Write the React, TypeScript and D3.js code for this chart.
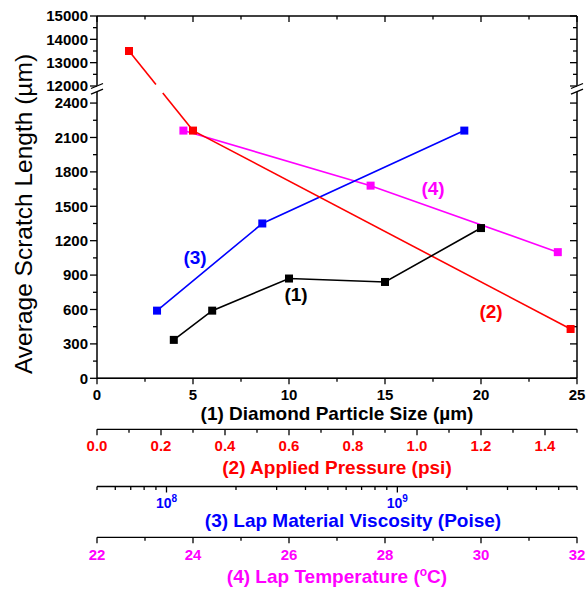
import React from "react";
import * as d3 from "d3";

// ---- data ----
const diamondSize = [4, 6, 10, 15, 20];
const diamondScratch = [335, 590, 870, 840, 1310];
const pressure = [0.1, 0.3, 1.48];
const pressureScratch = [13500, 2160, 430];
const viscosity = [9.1e7, 2.6e8, 1.95e9];
const viscosityScratch = [590, 1350, 2160];
const temperature = [23.8, 27.7, 31.6];
const temperatureScratch = [2160, 1680, 1100];

const yLowerTicks = [0, 300, 600, 900, 1200, 1500, 1800, 2100, 2400];
const yUpperTicks = [12000, 13000, 14000, 15000];
const diamondTicks = [0, 5, 10, 15, 20, 25];
const pressureTicks = [0.0, 0.2, 0.4, 0.6, 0.8, 1.0, 1.2, 1.4];
const viscosityTicks = [1e8, 1e9];
const temperatureTicks = [22, 24, 26, 28, 30, 32];

const FONT = "'Liberation Sans', Arial, Helvetica, sans-serif";
const RED = "#FF0000";
const BLUE = "#0000FF";
const MAG = "#FF00FF";

const X0 = 97;
const X1 = 577;
const YTOP = 16;
const YBOT = 378.3;
const BREAK_UP = 86;
const BREAK_LO = 91.6;

const xDiamond = d3.scaleLinear().domain([0, 25]).range([X0, X1]);
const xPressure = d3.scaleLinear().domain([0, 1.5]).range([X0, X1]);
const xVisc = d3.scaleLog().domain([5e7, 6e9]).range([X0, X1]);
const xTemp = d3.scaleLinear().domain([22, 32]).range([X0, X1]);
const yLower = d3.scaleLinear().domain([0, 2500]).range([YBOT, BREAK_LO]);
const yUpper = d3.scaleLinear().domain([12000, 15000]).range([BREAK_UP, YTOP]);
const yScale = (v: number) => (v > 2500 ? yUpper(v) : yLower(v));

function Series({ xs, ys, xScale, color }: any) {
  const pts: [number, number][] = xs.map((x: number, i: number) => [xScale(x), yScale(ys[i])]);
  const line = d3.line();
  return (
    <g>
      <path d={line(pts) || ""} fill="none" stroke={color} strokeWidth={1.6} />
      {pts.map((p, i) => (
        <rect key={i} x={p[0] - 4} y={p[1] - 4} width={8} height={8} fill={color} />
      ))}
    </g>
  );
}

function BottomAxis({ y, scale, majors, minors, labels, color, title, titleX, titleY, titleNode }: any) {
  return (
    <g>
      <line x1={X0} x2={X1} y1={y} y2={y} stroke="#000" strokeWidth={1.3} />
      {majors.map((t: number, i: number) => (
        <line key={"M" + i} x1={scale(t)} x2={scale(t)} y1={y} y2={y + 6} stroke="#000" strokeWidth={1.3} />
      ))}
      {minors.map((t: number, i: number) => (
        <line key={"m" + i} x1={scale(t)} x2={scale(t)} y1={y} y2={y + 3.5} stroke="#000" strokeWidth={1.3} />
      ))}
      {labels}
      <text x={titleX ?? (X0 + X1) / 2} y={titleY} textAnchor="middle" fontSize={19} fontWeight="bold" fill={color} fontFamily={FONT}>
        {titleNode || title}
      </text>
    </g>
  );
}

export default function App() {
  const W = 586;
  const H = 591;

  // red segment across the break
  const rp1: [number, number] = [xPressure(pressure[0]), yScale(pressureScratch[0])];
  const rp2: [number, number] = [xPressure(pressure[1]), yScale(pressureScratch[1])];
  const gapTop = 84.5;
  const gapBot = 93;
  const tAt = (yy: number) => (yy - rp1[1]) / (rp2[1] - rp1[1]);
  const interp = (t: number): [number, number] => [rp1[0] + (rp2[0] - rp1[0]) * t, rp1[1] + (rp2[1] - rp1[1]) * t];
  const ga = interp(tAt(gapTop));
  const gb = interp(tAt(gapBot));

  const lowerMinor = d3.range(150, 2500, 300);
  const upperMinor = d3.range(12500, 15000, 1000);
  const xMinor = d3.range(2.5, 25, 5);

  const tickW = 1.3;

  const yTickLines = (ax: number, dir: number) => (
    <g>
      {yLowerTicks.map((t) => (
        <line key={"l" + t} x1={ax} x2={ax + dir * 7} y1={yLower(t)} y2={yLower(t)} stroke="#000" strokeWidth={tickW} />
      ))}
      {lowerMinor.map((t) => (
        <line key={"lm" + t} x1={ax} x2={ax + dir * 4} y1={yLower(t)} y2={yLower(t)} stroke="#000" strokeWidth={tickW} />
      ))}
      {yUpperTicks.map((t) => (
        <line key={"u" + t} x1={ax} x2={ax + dir * 7} y1={yUpper(t)} y2={yUpper(t)} stroke="#000" strokeWidth={tickW} />
      ))}
      {upperMinor.map((t) => (
        <line key={"um" + t} x1={ax} x2={ax + dir * 4} y1={yUpper(t)} y2={yUpper(t)} stroke="#000" strokeWidth={tickW} />
      ))}
      <line x1={ax} x2={ax} y1={YTOP} y2={BREAK_UP - 0.5} stroke="#000" strokeWidth={1.5} />
      <line x1={ax} x2={ax} y1={BREAK_LO + 0.5} y2={YBOT} stroke="#000" strokeWidth={1.5} />
      <line x1={ax - 6} x2={ax + 6} y1={BREAK_UP + 2.5} y2={BREAK_UP - 2.5} stroke="#000" strokeWidth={1.3} />
      <line x1={ax - 6} x2={ax + 6} y1={BREAK_LO + 2.5} y2={BREAK_LO - 2.5} stroke="#000" strokeWidth={1.3} />
    </g>
  );

  const visMinor: number[] = [];
  [5e7, 6e7, 7e7, 8e7, 9e7].forEach((v) => visMinor.push(v));
  for (let k = 2; k <= 9; k++) visMinor.push(k * 1e8);
  for (let k = 2; k <= 6; k++) visMinor.push(k * 1e9);

  return (
    <svg width={W} height={H} style={{ position: "absolute", left: 0, top: 0, background: "#fff" }} fontFamily={FONT}>
      <rect x={0} y={0} width={W} height={H} fill="#fff" />

      {/* frame */}
      <line x1={X0} x2={X1} y1={YTOP} y2={YTOP} stroke="#000" strokeWidth={1.5} />
      <line x1={X0} x2={X1} y1={YBOT} y2={YBOT} stroke="#000" strokeWidth={1.5} />
      {yTickLines(X0, -1)}
      {yTickLines(X1, -1)}
      {/* top ticks inward */}
      {diamondTicks.map((t) => (
        <line key={"tt" + t} x1={xDiamond(t)} x2={xDiamond(t)} y1={YTOP} y2={YTOP + 6} stroke="#000" strokeWidth={tickW} />
      ))}
      {xMinor.map((t) => (
        <line key={"ttm" + t} x1={xDiamond(t)} x2={xDiamond(t)} y1={YTOP} y2={YTOP + 3.5} stroke="#000" strokeWidth={tickW} />
      ))}

      {/* y tick labels */}
      {yLowerTicks.map((t) => (
        <text key={"yl" + t} x={88} y={yLower(t)} dy="0.35em" textAnchor="end" fontSize={15} fontWeight="bold">
          {t}
        </text>
      ))}
      {yUpperTicks.map((t) => (
        <text key={"yu" + t} x={88} y={yUpper(t)} dy="0.35em" textAnchor="end" fontSize={15} fontWeight="bold">
          {t}
        </text>
      ))}
      <text transform="translate(32,214) rotate(-90)" textAnchor="middle" fontSize={24.5}>
        Average Scratch Length (µm)
      </text>

      {/* axis 1 */}
      <BottomAxis
        y={YBOT}
        scale={xDiamond}
        majors={diamondTicks}
        minors={xMinor}
        color="#000"
        titleY={420}
        title="(1) Diamond Particle Size (µm)"
        labels={diamondTicks.map((t) => (
          <text key={t} x={xDiamond(t)} y={400} textAnchor="middle" fontSize={15} fontWeight="bold">
            {t}
          </text>
        ))}
      />
      {/* axis 2 */}
      <BottomAxis
        y={429.3}
        scale={xPressure}
        majors={pressureTicks}
        minors={d3.range(0.1, 1.55, 0.2)}
        color={RED}
        titleY={474}
        title="(2) Applied Pressure (psi)"
        labels={pressureTicks.map((t) => (
          <text key={t} x={xPressure(t)} y={451} textAnchor="middle" fontSize={15} fontWeight="bold" fill={RED}>
            {t.toFixed(1)}
          </text>
        ))}
      />
      {/* axis 3 */}
      <BottomAxis
        y={486.5}
        scale={xVisc}
        majors={viscosityTicks}
        minors={visMinor}
        color={BLUE}
        titleX={353}
        titleY={527}
        title="(3) Lap Material Viscosity (Poise)"
        labels={viscosityTicks.map((t) => (
          <text key={t} x={xVisc(t)} y={508} textAnchor="middle" fontSize={14} fontWeight="bold" fill={BLUE}>
            <tspan>10</tspan>
            <tspan dy={-6} fontSize={10}>
              {Math.round(Math.log10(t))}
            </tspan>
          </text>
        ))}
      />
      {/* axis 4 */}
      <BottomAxis
        y={537.3}
        scale={xTemp}
        majors={temperatureTicks}
        minors={d3.range(23, 32, 2)}
        color={MAG}
        titleY={583}
        titleNode={
          <>
            <tspan>(4) Lap Temperature (</tspan>
            <tspan dy={-7} fontSize={12}>
              o
            </tspan>
            <tspan dy={7}>C)</tspan>
          </>
        }
        labels={temperatureTicks.map((t) => (
          <text key={t} x={xTemp(t)} y={560} textAnchor="middle" fontSize={15} fontWeight="bold" fill={MAG}>
            {t}
          </text>
        ))}
      />

      {/* series */}
      <Series xs={temperature} ys={temperatureScratch} xScale={xTemp} color={MAG} />
      <Series xs={viscosity} ys={viscosityScratch} xScale={xVisc} color={BLUE} />
      <line x1={rp1[0]} y1={rp1[1]} x2={ga[0]} y2={ga[1]} stroke={RED} strokeWidth={1.6} />
      <line x1={gb[0]} y1={gb[1]} x2={rp2[0]} y2={rp2[1]} stroke={RED} strokeWidth={1.6} />
      <rect x={rp1[0] - 4} y={rp1[1] - 4} width={8} height={8} fill={RED} />
      <Series xs={pressure.slice(1)} ys={pressureScratch.slice(1)} xScale={xPressure} color={RED} />
      <Series xs={diamondSize} ys={diamondScratch} xScale={xDiamond} color="#000" />

      {/* series labels */}
      <text x={296} y={294} dy="0.35em" textAnchor="middle" fontSize={19} fontWeight="bold" fill="#000">(1)</text>
      <text x={491} y={311} dy="0.35em" textAnchor="middle" fontSize={19} fontWeight="bold" fill={RED}>(2)</text>
      <text x={195} y={257} dy="0.35em" textAnchor="middle" fontSize={19} fontWeight="bold" fill={BLUE}>(3)</text>
      <text x={433} y={188} dy="0.35em" textAnchor="middle" fontSize={19} fontWeight="bold" fill={MAG}>(4)</text>
    </svg>
  );
}
